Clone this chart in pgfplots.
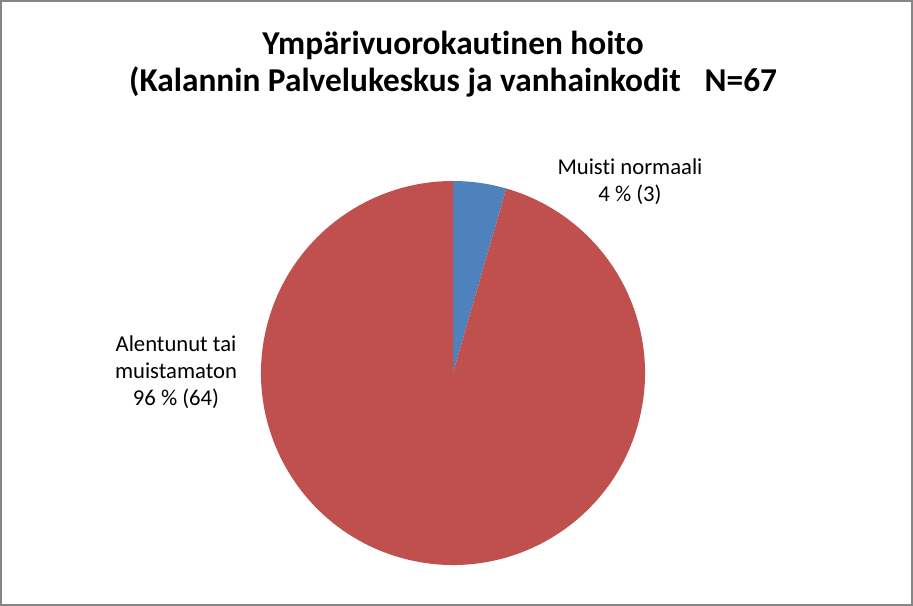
\documentclass[border=0pt]{standalone}
\usepackage{pgfplots}
\usepackage{pgfplotstable}
\pgfplotsset{compat=1.18}
\usepackage{fontspec}
\setmainfont{Carlito}[Ligatures={NoCommon,NoContextual}]

\definecolor{sliceblue}{HTML}{4F81BD}
\definecolor{slicered}{HTML}{C0504D}
\definecolor{framegray}{HTML}{868686}

% slices: value, going clockwise from 12 o'clock
\pgfplotstableread{
name value
normaali 3
alentunut 64
}\piedata

\begin{document}
\begin{tikzpicture}
\pgfplotstablegetelem{0}{value}\of\piedata \let\va\pgfplotsretval
\pgfplotstablegetelem{1}{value}\of\piedata \let\vb\pgfplotsretval
\pgfmathsetmacro{\tot}{\va+\vb}
\pgfmathsetmacro{\angA}{90-360*\va/\tot}
\begin{axis}[
    hide axis,
    scale only axis,
    width=684.75pt, height=454.5pt,
    xmin=0, xmax=913, ymin=0, ymax=606,
    clip=false,
]
% frame
\draw[framegray, line width=1.5pt] (axis cs:1,1) rectangle (axis cs:912,605);
% slices
\fill[sliceblue] (axis cs:453,233) -- ++(90:144pt) arc[start angle=90, end angle=\angA, radius=144pt] -- cycle;
\fill[slicered] (axis cs:453,233) -- ++(\angA:144pt) arc[start angle=\angA, end angle=-270, radius=144pt] -- cycle;
% title
\node[font=\fontsize{25}{28}\selectfont\bfseries] at (axis cs:453,561) {Ympärivuorokautinen hoito};
\node[font=\fontsize{25}{28}\selectfont\bfseries] at (axis cs:453,524) {(Kalannin Palvelukeskus ja vanhainkodit\ \ \ \hspace{1pt}N=67};
% labels
\node[font=\fontsize{17}{20.25}\selectfont, align=center] at (axis cs:630,424.5) {Muisti normaali\\4 \% (3)};
\node[font=\fontsize{17}{20.25}\selectfont, align=center] at (axis cs:176,233.5) {Alentunut tai\\muistamaton\\96 \% (64)};
\end{axis}
\end{tikzpicture}
\end{document}
